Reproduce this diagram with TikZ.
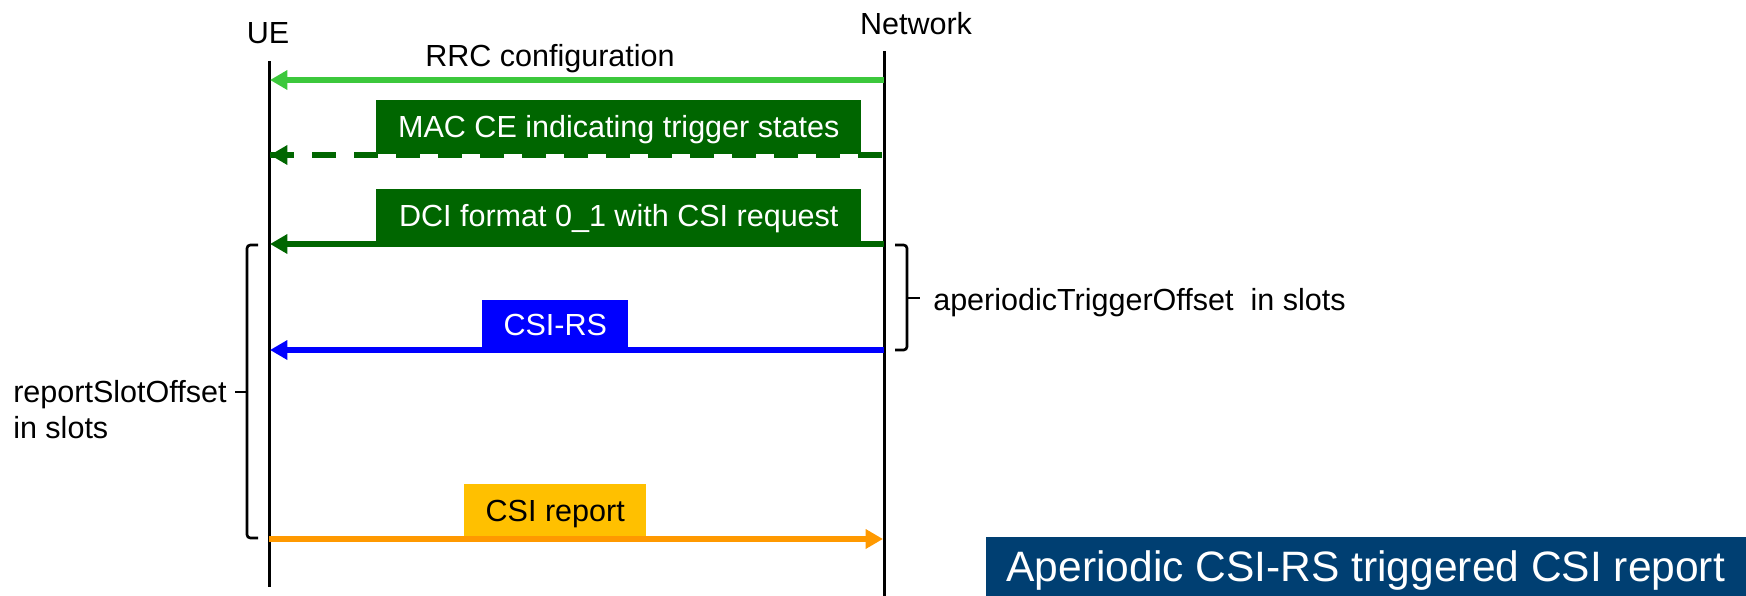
\documentclass[tikz,border=0pt]{standalone}
\usepackage{fontspec}
\setmainfont{Liberation Sans}
\usetikzlibrary{arrows.meta,calc}
\definecolor{rrcgreen}{RGB}{60,200,60}
\definecolor{macgreen}{RGB}{0,102,0}
\definecolor{rsblue}{RGB}{0,0,255}
\definecolor{repgold}{RGB}{255,192,0}
\definecolor{reporange}{RGB}{255,153,0}
\definecolor{titleblue}{RGB}{0,63,114}

\begin{document}
\begin{tikzpicture}[x=0.75pt,y=-0.75pt,
  lbl/.style={font=\fontsize{22.9}{27}\selectfont, inner sep=0pt},
  lifeline/.style={line width=2.25pt},
  msgline/.style={line width=4.5pt},
  msg/.style={msgline, -{Triangle[length=13pt,width=14pt]}},
  msgbox/.style={anchor=south west, inner sep=0pt, font=\fontsize{22.9}{27}\selectfont,
    text height=16.4pt, text depth=0pt},
  brace/.style={line width=2pt, rounded corners=2.5pt}]

\useasboundingbox (0,0) rectangle (1746,596);

% lifelines
\node[lbl, anchor=base] (ue) at (268,43) {UE};
\node[lbl, anchor=base] (nw) at (916,34) {Network};
\coordinate (ueTop) at (269,61);
\coordinate (ueBot) at (269,587);
\coordinate (nwTop) at (884,51);
\coordinate (nwBot) at (884,596);
\draw[lifeline] (ueTop) -- (ueBot);
\draw[lifeline] (nwTop) -- (nwBot);

% message end points on the lifelines
\coordinate (uRRC) at (270,80);  \coordinate (nRRC) at (884,80);
\coordinate (uMAC) at (270,155); \coordinate (nMAC) at (884,155);
\coordinate (uDCI) at (270,244); \coordinate (nDCI) at (884,244);
\coordinate (uRS)  at (270,350); \coordinate (nRS)  at (884,350);
\coordinate (uRep) at (269,539); \coordinate (nRep) at (883,539);

% RRC configuration
\node[lbl, anchor=base] (rrc) at (550,66) {RRC configuration};
\draw[msg, rrcgreen] (nRRC) -- (uRRC);

% MAC CE (dashed)
\node[msgbox, fill=macgreen, text=white, minimum width=363.75pt, minimum height=40.5pt]
  (mac) at (376,154) {MAC CE indicating trigger states\hspace{6pt}};
\draw[msgline, macgreen, dash pattern=on 18pt off 13.5pt] (uMAC) -- (nMAC);
\draw[msg, macgreen] ($(uMAC)+(20,0)$) -- (uMAC);

% DCI
\node[msgbox, fill=macgreen, text=white, minimum width=363.75pt, minimum height=40.5pt]
  (dci) at (376,243) {DCI format 0\_1 with CSI request\hspace{6pt}};
\draw[msg, macgreen] (nDCI) -- (uDCI);

% CSI-RS
\node[msgbox, fill=rsblue, text=white, minimum width=109.5pt, minimum height=36.75pt]
  (rs) at (482,349) {CSI-RS\hspace{13pt}};
\draw[msg, rsblue] (nRS) -- (uRS);

% CSI report
\node[msgbox, fill=repgold, text=black, minimum width=136.5pt, minimum height=40.5pt]
  (rep) at (464,538) {CSI report\hspace{14pt}};
\draw[msg, reporange] (uRep) -- (nRep);

% reportSlotOffset bracket
\draw[brace] (258,245) -- (247,245) -- (247,538) -- (258,538);
\draw[brace] (247,392) -- (235,392);
\node[lbl, anchor=west, align=left] (rso) at (13,410) {reportSlotOffset\\in slots};

% aperiodicTriggerOffset bracket
\draw[brace] (895,245) -- (907,245) -- (907,350) -- (895,350);
\draw[brace] (907,298) -- (920,298);
\node[lbl, anchor=west] (ato) at (933,303) {aperiodicTriggerOffset\ \ in slots};

% title
\node[anchor=south east, fill=titleblue, text=white, inner sep=0pt,
  minimum width=570pt, minimum height=44.25pt, font=\fontsize{31.9}{36}\selectfont,
  text height=22.8pt, text depth=0pt]
  (title) at (1746,596) {Aperiodic CSI-RS triggered CSI report};
\end{tikzpicture}
\end{document}
